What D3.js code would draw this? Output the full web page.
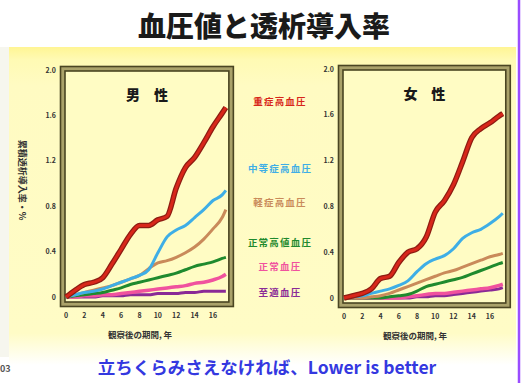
<!DOCTYPE html>
<html><head><meta charset="utf-8">
<script src="https://cdn.jsdelivr.net/npm/d3@7"></script>
<style>
html,body{margin:0;padding:0;background:#fff;}
svg{display:block;}
text{font-family:"Noto Sans CJK JP","Noto Sans",sans-serif;}
</style></head>
<body>
<svg id="chart" width="521" height="383"></svg>
<script>
// Follow-up time (years)
const years = [0,1,2,3,4,5,6,7,8,9,10,11,12,13,14,15,16,17,17.4];

// Blood pressure categories (legend order, top to bottom)
const categories = ["重症高血圧","中等症高血圧","軽症高血圧","正常高値血圧","正常血圧","至適血圧"];
const colors = ["#d8261a","#3eaee6","#c98a5a","#1f8a2e","#f0529e","#8a2a96"];

// Cumulative incidence (%), men
const male = [
  [0,0.06,0.11,0.13,0.17,0.29,0.42,0.55,0.63,0.63,0.68,0.71,0.96,1.14,1.23,1.36,1.50,1.62,1.67],
  [0,0.02,0.04,0.05,0.07,0.10,0.13,0.16,0.19,0.24,0.39,0.53,0.59,0.63,0.70,0.77,0.85,0.90,0.94],
  [0,0.02,0.04,0.06,0.08,0.10,0.13,0.16,0.19,0.25,0.30,0.32,0.35,0.39,0.44,0.51,0.60,0.70,0.77],
  [0,0.01,0.02,0.03,0.04,0.06,0.08,0.11,0.13,0.15,0.17,0.19,0.21,0.24,0.27,0.29,0.31,0.34,0.35],
  [0,0,0.01,0.01,0.02,0.02,0.03,0.04,0.05,0.06,0.07,0.08,0.09,0.10,0.12,0.13,0.15,0.18,0.20],
  [0,0,0,0,0.01,0.01,0.01,0.02,0.02,0.02,0.03,0.03,0.03,0.04,0.04,0.05,0.05,0.05,0.05]
];

// Cumulative incidence (%), women
const female = [
  [0,0.02,0.04,0.08,0.17,0.19,0.31,0.40,0.43,0.53,0.75,0.85,0.99,1.19,1.40,1.48,1.53,1.59,1.61],
  [0,0.01,0.02,0.04,0.06,0.08,0.11,0.15,0.23,0.30,0.34,0.37,0.43,0.52,0.57,0.60,0.65,0.71,0.74],
  [0,0,0,0.01,0.02,0.04,0.07,0.10,0.13,0.16,0.19,0.22,0.24,0.27,0.30,0.33,0.36,0.38,0.39],
  [0,0,0,0,0,0.01,0.02,0.03,0.06,0.10,0.12,0.14,0.16,0.18,0.21,0.24,0.27,0.30,0.31],
  [0,0,0,0,0,0,0,0.01,0.02,0.03,0.04,0.04,0.05,0.06,0.07,0.08,0.09,0.11,0.12],
  [0,0,0,0,0,0,0,0,0.01,0.01,0.02,0.02,0.03,0.04,0.05,0.06,0.07,0.08,0.09]
];

const yTicks = [0,0.4,0.8,1.2,1.6,2.0];
const yTickLabels = ["0","0.4","0.8","1.2","1.6","2.0"];
const xTicks = [0,2,4,6,8,10,12,14,16];

const titleText = "血圧値と透析導入率";
const panelTitles = ["男　性","女　性"];
const xLabel = "観察後の期間, 年";
const yLabel = "累積透析導入率・%";
const footer = "立ちくらみさえなければ、Lower is better";

const svg = d3.select("#chart");
const defs = svg.append("defs");

// Slide background
const bg = defs.append("linearGradient").attr("id","bg").attr("x1",0).attr("y1",0).attr("x2",0).attr("y2",1);
bg.append("stop").attr("offset","0%").attr("stop-color","#fff594");
bg.append("stop").attr("offset","4%").attr("stop-color","#fffab4");
bg.append("stop").attr("offset","12%").attr("stop-color","#fffbc2");
bg.append("stop").attr("offset","90%").attr("stop-color","#fffcc6");
bg.append("stop").attr("offset","100%").attr("stop-color","#ffffff");

svg.append("rect").attr("x",0).attr("y",0).attr("width",521).attr("height",383).attr("fill","#ffffff");
svg.append("rect").attr("x",0).attr("y",47).attr("width",9).attr("height",310).attr("fill","#f6f6ee");
svg.append("rect").attr("x",9).attr("y",47).attr("width",507).attr("height",318).attr("fill","url(#bg)");
svg.append("line").attr("x1",519).attr("x2",519).attr("y1",0).attr("y2",383)
  .attr("stroke","#9a4cff").attr("stroke-width",2.5);

svg.append("text").attr("x",264).attr("y",37).attr("text-anchor","middle")
  .attr("font-size",28).attr("font-weight",900).attr("fill","#1a1a1a").text(titleText);

svg.append("text").attr("x",0).attr("y",372).attr("font-size",9).attr("font-weight",700)
  .attr("fill","#555").text("03");

svg.append("text").attr("x",267).attr("y",374).attr("text-anchor","middle")
  .attr("font-size",17.5).attr("font-weight",700).attr("fill","#3438e0").text(footer);

function panel(data, opts) {
  const x = d3.scaleLinear().domain([0,16]).range([opts.x0, opts.x16]);
  const y = d3.scaleLinear().domain([0,2]).range([opts.yb, opts.yt]);
  const g = svg.append("g");

  const il = x(0)-1, ir = x(17.4)+3, it = y(2)+1, ib = y(0)+5;
  // bevelled frame
  g.append("rect").attr("x",il-4.5).attr("y",it-4.5).attr("width",ir-il+9).attr("height",ib-it+9)
    .attr("fill","#aaa26a").attr("stroke","#4a4522").attr("stroke-width",1.6);
  g.append("rect").attr("x",il).attr("y",it).attr("width",ir-il).attr("height",ib-it)
    .attr("fill","#fffcc4").attr("stroke","#4a4522").attr("stroke-width",1.6);

  // y ticks
  g.selectAll("text.yt").data(yTicks).join("text").attr("class","yt")
    .attr("x",opts.x0-10).attr("y",d=>y(d)+2.5).attr("text-anchor","end")
    .attr("font-size",7).attr("font-weight",700).attr("fill","#333")
    .text((d,i)=>yTickLabels[i]);
  // x ticks
  g.selectAll("text.xt").data(xTicks).join("text").attr("class","xt")
    .attr("x",d=>x(d)).attr("y",ib+16).attr("text-anchor","middle")
    .attr("font-size",7).attr("font-weight",700).attr("fill","#333").text(d=>d);

  g.append("text").attr("x",opts.labelX).attr("y",ib+36).attr("text-anchor","middle")
    .attr("font-size",8.5).attr("font-weight",700).attr("fill","#333").text(xLabel);

  g.append("text").attr("x",(il+ir)/2).attr("y",it+29).attr("text-anchor","middle")
    .attr("font-size",14).attr("font-weight",900).attr("fill","#1a1a1a").text(opts.title);

  const line = d3.line().x((d,i)=>x(years[i])).y(d=>y(d)).curve(d3.curveMonotoneX);
  const order = [5,4,3,2,1,0];
  order.forEach(k=>{
    if (k===0) {
      g.append("path").attr("d",line(data[k])).attr("fill","none")
        .attr("stroke","#8e1c12").attr("stroke-width",5.5).attr("stroke-linejoin","round");
      g.append("path").attr("d",line(data[k])).attr("fill","none")
        .attr("stroke",colors[k]).attr("stroke-width",3).attr("stroke-linejoin","round");
    } else {
      g.append("path").attr("d",line(data[k])).attr("fill","none")
        .attr("stroke",colors[k]).attr("stroke-width",k===4?3.5:3).attr("stroke-linejoin","round");
    }
  });
}

panel(male, {x0:66, x16:213, yb:297, yt:70, title:panelTitles[0], labelX:140});
panel(female, {x0:344, x16:490, yb:298, yt:69, title:panelTitles[1], labelX:415});

// y axis title
svg.append("text").attr("transform","translate(19,180) rotate(90)").attr("text-anchor","middle")
  .attr("font-size",9).attr("font-weight",700).attr("fill","#333").text(yLabel);

// legend
const legendY = [102,169,203,243,267,293];
svg.selectAll("text.lg").data(categories).join("text").attr("class","lg")
  .attr("x",280).attr("y",(d,i)=>legendY[i]+3).attr("text-anchor","middle")
  .attr("font-size",9.5).attr("font-weight",700).attr("letter-spacing",1.2)
  .attr("fill",(d,i)=>colors[i]).text(d=>d);
</script>
</body></html>
